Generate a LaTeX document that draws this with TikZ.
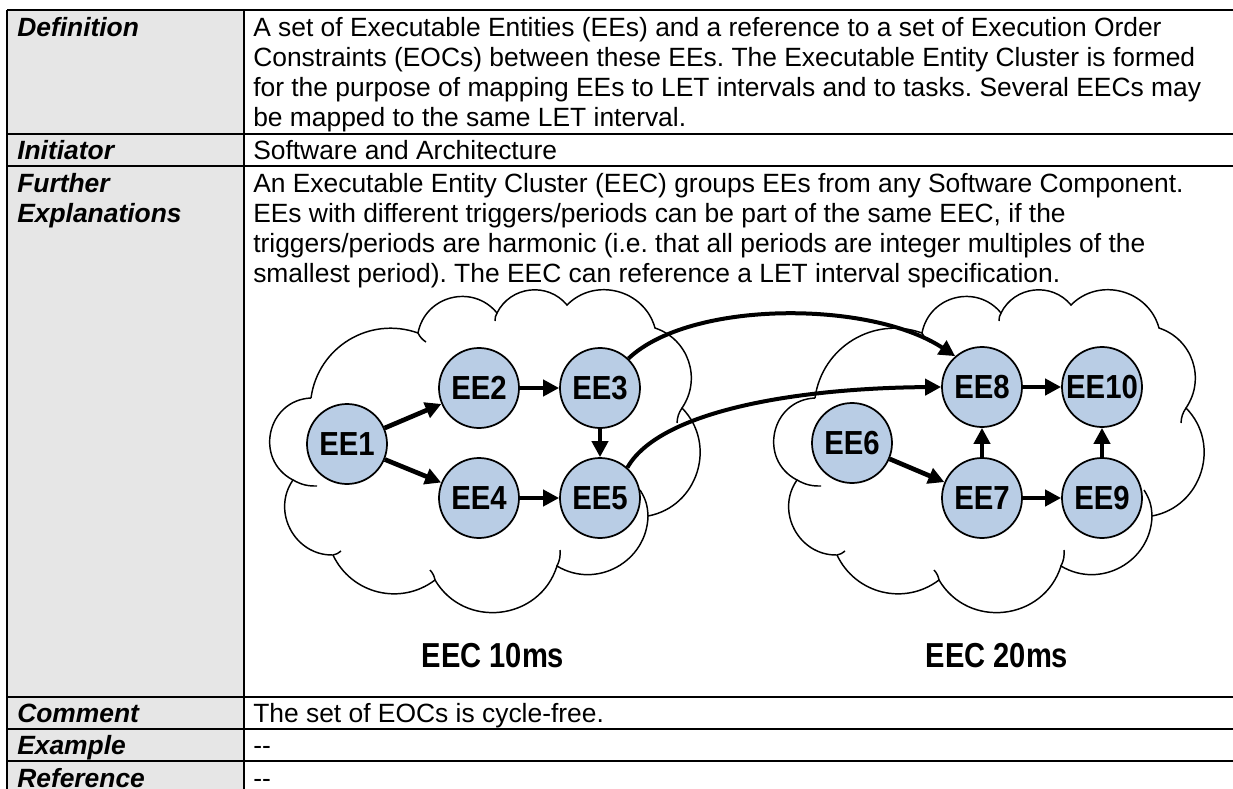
\documentclass[tikz,border=0pt]{standalone}
\usepackage{fontspec}
\setmainfont{Liberation Sans}
\newfontfamily\eefont[FakeStretch=0.84]{Liberation Sans}
\newfontfamily\eenodefont[FakeStretch=0.88]{Liberation Sans}
\usetikzlibrary{arrows.meta}
\definecolor{eeblue}{RGB}{185,205,229}
\definecolor{cellgray}{RGB}{230,230,230}
\frenchspacing
\tikzset{
  cloudline/.style={line width=1.1pt},
  cloudshape/.pic={
    \draw[cloudline,fill=white] (311,-398)
      to[bend right=75,looseness=1.35] (293,-480)
      to[bend right=63,looseness=1.15] (333,-555)
      to[bend right=51,looseness=1.05] (435,-580)
      to[bend right=66,looseness=1.2]  (557,-566)
      to[bend right=60,looseness=1.13] (648,-516)
      to[bend right=62,looseness=1.15] (682,-408)
      to[bend right=53,looseness=1.07] (655,-328)
      to[bend right=60,looseness=1.12] (567,-305)
      to[bend right=57,looseness=1.1]  (497,-313)
      to[bend right=65,looseness=1.2]  (418,-333)
      to[bend right=51,looseness=1.05] (311,-398);
    \draw[cloudline] (293,-480) to[bend right=15] (317,-486);
    \draw[cloudline] (333,-555) to[bend right=15] (341,-551);
    \draw[cloudline] (435,-580) to[bend right=15] (430,-570);
    \draw[cloudline] (557,-566) to[bend right=15] (560,-550);
    \draw[cloudline] (648,-516) to[bend right=15] (640,-490);
    \draw[cloudline] (682,-408) to[bend right=15] (677,-423);
    \draw[cloudline] (497,-313) to[bend right=15] (495,-321);
    \draw[cloudline] (418,-333) to[bend right=15] (426,-342);
  }
}
\begin{document}
\begin{tikzpicture}[x=0.75pt,y=0.75pt,
  ee/.style={circle,draw,line width=1.3pt,fill=eeblue,minimum size=60pt,inner sep=0pt,
    font=\eenodefont\bfseries\fontsize{25}{25}\selectfont},
  eoc/.style={line width=3.5pt,-{Triangle[length=12pt,width=12pt]}},
  eoccurve/.style={line width=3pt,-{Triangle[length=12pt,width=12pt]}},
  lbl/.style={anchor=base west,inner sep=0pt,font=\fontsize{19.8}{24}\selectfont},
  hd/.style={anchor=base west,inner sep=0pt,font=\fontsize{19.8}{24}\selectfont\bfseries\itshape},
  tabrule/.style={line width=1.5pt},
  eec/.style={anchor=base,inner sep=0pt,font=\eefont\bfseries\fontsize{26}{26}\selectfont}
]
\useasboundingbox (0,0) rectangle (1233,-789);
\clip (0,0) rectangle (1233,-789);

% table
\fill[cellgray] (7,-10) rectangle (243.5,-800);
\foreach \yy in {10,134,166,697,729,761}
  \draw[tabrule] (7,-\yy) -- (1240,-\yy);
\draw[tabrule] (7,-10) -- (7,-800);
\draw[tabrule] (243.5,-10) -- (243.5,-800);

% row texts
\node[hd] (hdef) at (17,-36) {Definition};
\node[lbl] (d1) at (253,-36) {A set of Executable Entities (EEs) and a reference to a set of Execution Order};
\node[lbl] (d2) at (253,-66) {Constraints (EOCs) between these EEs. The Executable Entity Cluster is formed};
\node[lbl] (d3) at (253,-96) {for the purpose of mapping EEs to LET intervals and to tasks. Several EECs may};
\node[lbl] (d4) at (253,-126) {be mapped to the same LET interval.};
\node[hd] (hini) at (17,-159) {Initiator};
\node[lbl] (i1) at (253,-159) {Software and Architecture};
\node[hd] (hfur1) at (17,-192) {Further};
\node[hd] (hfur2) at (17,-222) {Explanations};
\node[lbl] (f1) at (253,-192) {An Executable Entity Cluster (EEC) groups EEs from any Software Component.};
\node[lbl] (f2) at (253,-222) {EEs with different triggers/periods can be part of the same EEC, if the};
\node[lbl] (f3) at (253,-252) {triggers/periods are harmonic (i.e. that all periods are integer multiples of the};
\node[lbl] (f4) at (253,-282) {smallest period). The EEC can reference a LET interval specification.};
\node[hd] (hcom) at (17,-722) {Comment};
\node[lbl] (c1) at (253,-722) {The set of EOCs is cycle-free.};
\node[hd] (hex) at (17,-754) {Example};
\node[lbl] (e1) at (253,-754) {-{}-};
\node[hd] (href) at (17,-787) {Reference};
\node[lbl] (r1) at (253,-787) {-{}-};

% clouds
\pic at (0,0) {cloudshape};
\pic at (504,0) {cloudshape};

% nodes
\node[ee] (ee1) at (347,-444) {EE1};
\node[ee] (ee2) at (479,-388) {EE2};
\node[ee] (ee3) at (600,-388) {EE3};
\node[ee] (ee4) at (479,-498) {EE4};
\node[ee] (ee5) at (600,-498) {EE5};
\node[ee] (ee6) at (852,-443) {EE6};
\node[ee] (ee7) at (982,-498) {EE7};
\node[ee] (ee8) at (982,-387) {EE8};
\node[ee] (ee9) at (1102,-498) {EE9};
\node[ee] (ee10) at (1102,-387) {EE10};

% connectors
\draw[eoc] (ee1) -- (ee2);
\draw[eoc] (ee1) -- (ee4);
\draw[eoc] (ee2) -- (ee3);
\draw[eoc] (ee4) -- (ee5);
\draw[eoc] (ee3) -- (ee5);
\draw[eoc] (ee6) -- (ee7);
\draw[eoc] (ee7) -- (ee8);
\draw[eoc] (ee7) -- (ee9);
\draw[eoc] (ee9) -- (ee10);
\draw[eoc] (ee8) -- (ee10);
\draw[eoccurve] (ee3.46) .. controls (690,-300) and (870,-300) .. (ee8.131);
\draw[eoccurve] (ee5.48) .. controls (660,-410) and (800,-388) .. (ee8.west);

% cluster labels
\node[eec] (eec1) at (493,-667) {EEC 10ms};
\node[eec] (eec2) at (997,-667) {EEC 20ms};
\end{tikzpicture}
\end{document}
